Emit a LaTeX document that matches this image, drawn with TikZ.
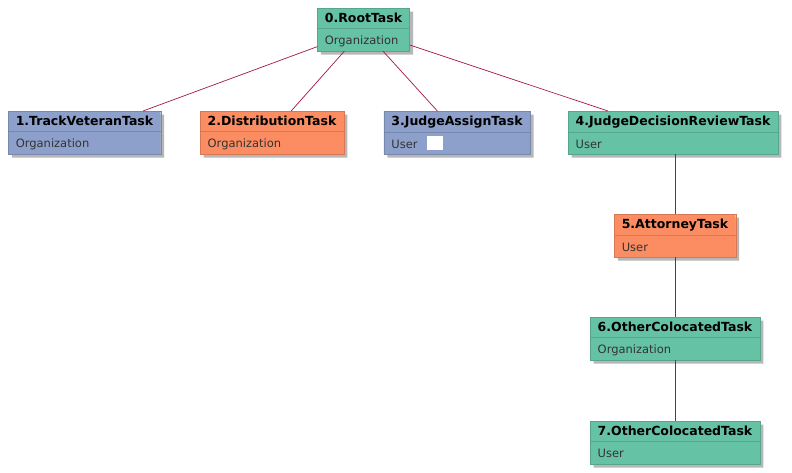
\documentclass[tikz,border=0pt]{standalone}
\usepackage{fontspec}
\setmainfont{DejaVu Sans}
\usepackage{tikz}
\usetikzlibrary{shapes.multipart,shadows}
\definecolor{taskgreen}{HTML}{66C2A5}
\definecolor{taskorange}{HTML}{FC8D62}
\definecolor{taskblue}{HTML}{8DA0CB}
\definecolor{ownertext}{HTML}{333333}
\definecolor{treelink}{HTML}{A3164A}

\newcommand{\tasktitle}[1]{{\fontsize{12.5}{14}\selectfont\bfseries\rule[-2.5pt]{0pt}{13pt}#1}}
\newcommand{\taskowner}[1]{{\fontsize{11.5}{13}\selectfont\color{ownertext}\rule[-2.5pt]{0pt}{15pt}#1}}

\tikzset{
  task/.style={rectangle split, rectangle split parts=2, rectangle split part align={left},
    inner xsep=7.5pt, inner ysep=3.5pt, anchor=north, line width=0.4pt,
    drop shadow={shadow xshift=3.5pt, shadow yshift=-3.5pt, opacity=.4, fill=black!70}},
  green task/.style={task, draw=taskgreen!85!black, fill=taskgreen},
  orange task/.style={task, draw=taskorange!85!black, fill=taskorange},
  blue task/.style={task, draw=taskblue!85!black, fill=taskblue},
  tree link/.style={draw=treelink, line width=0.7pt}
}

\begin{document}
\begin{tikzpicture}[x=1pt, y=-1pt]
  \fill[white] (0,0) rectangle (792,472);
  \useasboundingbox (0,0) rectangle (792,472);

  % tasks
  \node[green task] (root) at (363.5,8) {\tasktitle{0.RootTask}\nodepart{two}\taskowner{Organization}};
  \node[blue task] (track) at (84.5,111) {\tasktitle{1.TrackVeteranTask}\nodepart{two}\taskowner{Organization}};
  \node[orange task] (distribution) at (272,111) {\tasktitle{2.DistributionTask}\nodepart{two}\taskowner{Organization}};
  \node[blue task] (judgeassign) at (457,111) {\tasktitle{3.JudgeAssignTask}\nodepart{two}\taskowner{User\hspace{9pt}\textcolor{white}{\rule[-1.5pt]{16pt}{14pt}}}};
  \node[green task] (judgereview) at (673,111) {\tasktitle{4.JudgeDecisionReviewTask}\nodepart{two}\taskowner{User}};
  \node[orange task] (attorney) at (675,214) {\tasktitle{5.AttorneyTask}\nodepart{two}\taskowner{User}};
  \node[green task] (colocated) at (675,317) {\tasktitle{6.OtherColocatedTask}\nodepart{two}\taskowner{Organization}};
  \node[green task] (colocateduser) at (675,421) {\tasktitle{7.OtherColocatedTask}\nodepart{two}\taskowner{User}};

  % links
  \draw[tree link] (root) -- (track);
  \draw[tree link] (root) -- (distribution);
  \draw[tree link] (root) -- (judgeassign);
  \draw[tree link] (root) -- (judgereview);
  \draw[tree link] (attorney.north |- judgereview.south) -- (attorney.north);
  \draw[tree link] (attorney) -- (colocated);
  \draw[tree link] (colocated) -- (colocateduser);
\end{tikzpicture}
\end{document}
